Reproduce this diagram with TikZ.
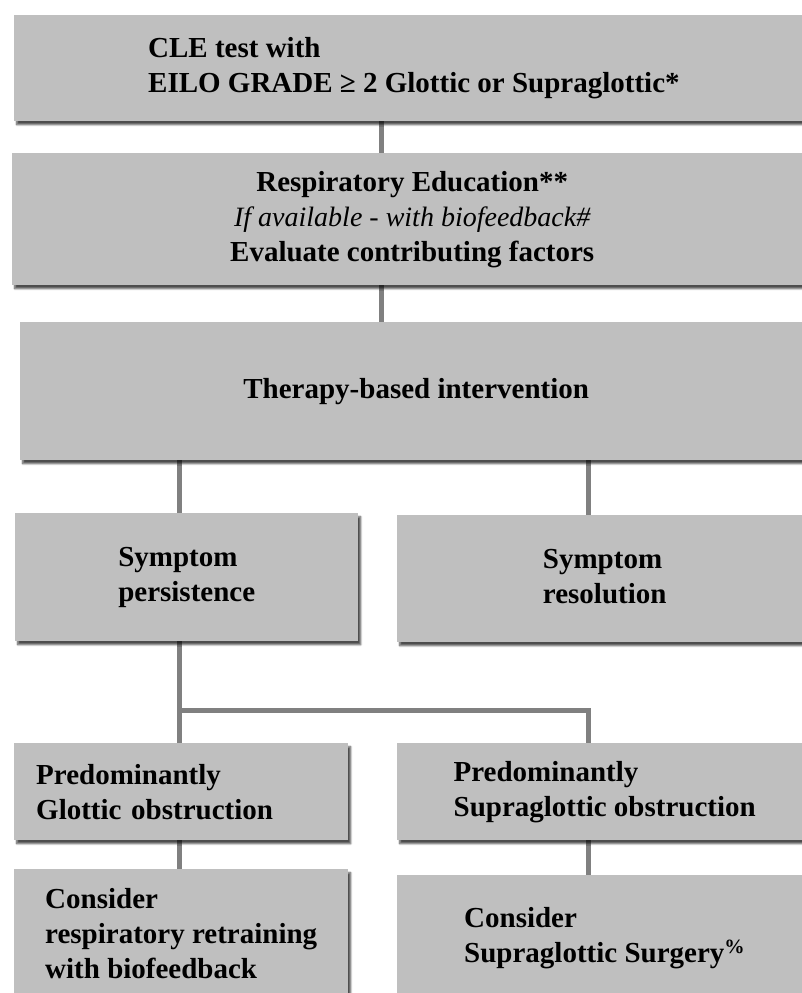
\documentclass[tikz,border=0pt]{standalone}
\usepackage{fontspec}
\setmainfont{Liberation Serif}
\usetikzlibrary{shadows.blur}

\tikzset{
  stage/.style={draw=none, fill=black!25, anchor=north west, align=center,
    font=\fontsize{29}{35}\selectfont\bfseries, inner sep=0pt,
    blur shadow={shadow xshift=2.5pt, shadow yshift=-3.5pt, shadow blur steps=6,
      shadow blur extra rounding=0pt, shadow opacity=70}},
  link/.style={draw=black!50, line width=5pt}
}

\begin{document}
\begin{tikzpicture}[x=1pt,y=-1pt]
    \useasboundingbox (0,0) rectangle (802,993);
    \clip (0,0) rectangle (802,993);

    % Where the connectors run
    \coordinate (mid) at (381,0);
    \coordinate (lft) at (179,0);
    \coordinate (rgt) at (588,0);
    \coordinate (split) at (179,710);
    \coordinate (turn) at (588,710);

    % Connectors
    \draw[link] (mid |- 0,121) -- (mid |- 0,153);
    \draw[link] (mid |- 0,285) -- (mid |- 0,322);
    \draw[link] (lft |- 0,460) -- (lft |- 0,513);
    \draw[link] (rgt |- 0,460) -- (rgt |- 0,515);
    \draw[link] (lft |- 0,641) -- (split) -- (turn) -- (rgt |- 0,743);
    \draw[link] (split) -- (lft |- 0,743);
    \draw[link] (lft |- 0,840) -- (lft |- 0,869);
    \draw[link] (rgt |- 0,840) -- (rgt |- 0,875);

    % Test
    \node[stage, minimum width=700, minimum height=106, inner xsep=134] (cle) at (14,15)
      {\begin{tabular}{@{}l@{}}CLE test with\\EILO GRADE ≥ 2 Glottic or Supraglottic*\end{tabular}};
    % Education
    \node[stage, minimum width=800, minimum height=132] (edu) at (12,153)
      {Respiratory Education**\\
       {\fontsize{28}{35}\selectfont\mdseries\itshape If available - with biofeedback\#}\\
       Evaluate contributing factors};
    % Therapy
    \node[stage, minimum width=792, minimum height=138] (ther) at (20,322)
      {Therapy-based intervention};
    % Outcome
    \node[stage, minimum width=343, minimum height=128] (pers) at (15,513)
      {\begin{tabular}{@{}l@{}}Symptom\\persistence\end{tabular}};
    \node[stage, minimum width=415, minimum height=127] (reso) at (397,515)
      {\begin{tabular}{@{}l@{}}Symptom\\resolution\end{tabular}};
    % Site of obstruction
    \node[stage, minimum width=334, minimum height=97, text width=290, align=left,
      inner xsep=22] (glot) at (14,743)
      {Predominantly\\Glottic obstruction};
    \node[stage, minimum width=415, minimum height=97] (supra) at (397,743)
      {\begin{tabular}{@{}l@{}}Predominantly\\Supraglottic obstruction\end{tabular}};
    % Treatment
    \node[stage, minimum width=334, minimum height=134] (retrain) at (14,869)
      {\begin{tabular}{@{}l@{}}Consider\\respiratory retraining\\with biofeedback\end{tabular}};
    \node[stage, minimum width=415, minimum height=125] (surg) at (397,875)
      {\begin{tabular}{@{}l@{}}Consider\\Supraglottic Surgery\textsuperscript{\%}\end{tabular}};
\end{tikzpicture}
\end{document}
